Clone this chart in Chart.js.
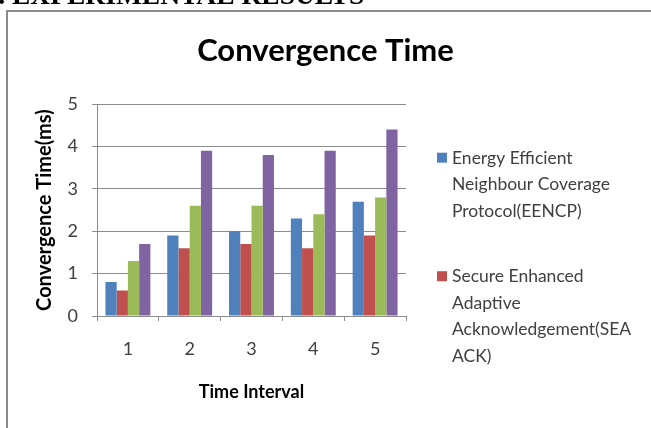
<!DOCTYPE html>
<html>
<head>
<meta charset="utf-8">
<script src="https://cdn.jsdelivr.net/npm/chart.js@4.4.1/dist/chart.umd.min.js"></script>
<style>
  html, body { margin: 0; padding: 0; background: #fff; overflow: hidden; }
  #wrap { position: relative; width: 651px; height: 428px; overflow: hidden; }
  #frame { position: absolute; left: 6px; top: 10px; width: 720px; height: 520px;
           border: 2px solid #8c8c8c; box-sizing: border-box; }
  #c { position: absolute; left: 0; top: 0; }
</style>
</head>
<body>
<div id="wrap">
  <div id="frame"></div>
  <canvas id="c" width="651" height="428"></canvas>
</div>
<script>
// Time intervals on the x axis
const categories = ['1', '2', '3', '4', '5'];

// Convergence time (ms) per interval
const eencp  = [0.8, 1.9, 2.0, 2.3, 2.7];
const seaack = [0.6, 1.6, 1.7, 1.6, 1.9];
const seriesC = [1.3, 2.6, 2.6, 2.4, 2.8];
const seriesD = [1.7, 3.9, 3.8, 3.9, 4.4];

// Y axis tick values
const yTicks = [0, 1, 2, 3, 4, 5];

// Legend text, broken into lines
const legendLines = [
  ['Energy Efficient', 'Neighbour Coverage', 'Protocol(EENCP)'],
  ['Secure Enhanced', 'Adaptive', 'Acknowledgement(SEA', 'ACK)']
];

const GRID = '#8c8c8c';
const TEXT = '#404040';

// Section heading above the chart frame
const heading = {
  id: 'heading',
  afterDraw(chart) {
    const ctx = chart.ctx;
    ctx.save();
    ctx.font = 'bold 27.5px "Liberation Serif"';
    ctx.fillStyle = '#000';
    ctx.textBaseline = 'alphabetic';
    const lead = ctx.measureText('I. ').width;
    ctx.fillText('I. EXPERIMENTAL RESULTS', 12 - lead, 4);
    ctx.restore();
  }
};

// Legend column on the right, with wrapped multi-line entries
const sideLegend = {
  id: 'sideLegend',
  beforeInit(chart, args, opts) {
    const box = {
      position: 'right', weight: 0, fullSize: false, options: {},
      top: 0, left: 0, right: 0, bottom: 0, width: 0, height: 0,
      isHorizontal() { return false; },
      update(maxWidth, maxHeight) { this.width = opts.width; this.height = maxHeight; },
      draw() {
        const ctx = chart.ctx;
        ctx.save();
        ctx.font = opts.fontSize + 'px Lato';
        ctx.textBaseline = 'alphabetic';
        let y = chart.chartArea.top + opts.firstBaseline;
        legendLines.forEach((lines, i) => {
          const ds = chart.data.datasets[i];
          ctx.fillStyle = ds.backgroundColor;
          ctx.fillRect(this.left + opts.markerX, y - 11, 10, 10);
          ctx.fillStyle = TEXT;
          lines.forEach((t, j) => ctx.fillText(t, this.left + opts.textX, y + j * opts.lineGap));
          y += lines.length * opts.lineGap + opts.entryGap;
        });
        ctx.restore();
      }
    };
    Chart.layouts.addBox(chart, box);
  }
};

function build() {
  new Chart(document.getElementById('c'), {
    type: 'bar',
    data: {
      labels: categories,
      datasets: [
        { label: 'Energy Efficient Neighbour Coverage Protocol(EENCP)', data: eencp, backgroundColor: '#4F81BD' },
        { label: 'Secure Enhanced Adaptive Acknowledgement(SEA ACK)', data: seaack, backgroundColor: '#C0504D' },
        { label: '', data: seriesC, backgroundColor: '#9BBB59' },
        { label: '', data: seriesD, backgroundColor: '#8064A2' }
      ]
    },
    options: {
      responsive: false,
      animation: false,
      devicePixelRatio: 1,
      layout: { padding: 0 },
      datasets: { bar: { categoryPercentage: 0.727, barPercentage: 1.0, borderWidth: 0 } },
      plugins: {
        legend: { display: false },
        tooltip: { enabled: false },
        title: {
          display: true,
          text: 'Convergence Time',
          color: '#000',
          font: { family: 'Lato', size: 31, weight: 'bold', lineHeight: 1.2 },
          padding: { top: 32, bottom: 35 }
        },
        sideLegend: { width: 245, markerX: 31, textX: 46, fontSize: 17.5,
                      firstBaseline: 59.5, lineGap: 26.5, entryGap: 39 }
      },
      scales: {
        x: {
          offset: true,
          afterFit(scale) { scale.height = 112; },
          grid: { offset: true, drawOnChartArea: false, drawTicks: true, tickLength: 5, color: GRID },
          border: { display: true, color: GRID },
          ticks: { color: TEXT, font: { family: 'Lato', size: 18 }, padding: 17 },
          title: { display: true, text: 'Time Interval', color: '#000',
                   font: { family: 'Lato', size: 18, weight: 'bold' }, padding: { top: 0, bottom: 25 } }
        },
        y: {
          min: 0, max: 5,
          afterFit(scale) { scale.width = 97; },
          afterBuildTicks(scale) { scale.ticks = yTicks.map(v => ({ value: v })); },
          grid: { color: GRID, tickLength: 5, drawTicks: true },
          border: { display: true, color: GRID },
          ticks: { color: TEXT, font: { family: 'Lato', size: 18 }, padding: 14 },
          title: { display: true, text: 'Convergence Time(ms)', color: '#000',
                   font: { family: 'Lato', size: 20, weight: 'bold' }, padding: { top: 33, bottom: 0 } }
        }
      }
    },
    plugins: [heading, sideLegend]
  });
}

Promise.all([
  document.fonts.load('bold 31px Lato'),
  document.fonts.load('18px Lato'),
  document.fonts.load('bold 27.5px "Liberation Serif"')
]).then(build, build);
</script>
</body>
</html>
